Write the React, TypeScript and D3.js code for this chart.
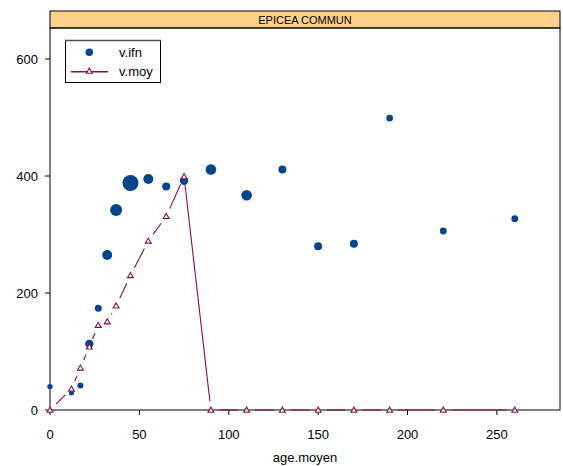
import React from 'react';
import * as d3 from 'd3';

const ages = [0, 12, 17, 22, 27, 32, 37, 45, 55, 65, 75, 90, 110, 130, 150, 170, 190, 220, 260];
const vIfn = [40, 29, 42, 113, 174, 265, 342, 388, 395, 382, 392, 411, 367, 411, 280, 284, 499, 306, 327];
const ifnRadius = [2.7, 2.5, 3, 4.2, 3.5, 5, 6, 8, 5, 4, 4.2, 5.3, 5.3, 4, 4, 4, 3.4, 3.4, 3.4];
const vMoy = [0, 36, 72, 108, 145, 151, 178, 230, 289, 331, 399, 0, 0, 0, 0, 0, 0, 0, 0];
const xTicks = [0, 50, 100, 150, 200, 250];
const yTicks = [0, 200, 400, 600];
const title = 'EPICEA COMMUN';

const BLUE = '#00468B';
const RED = '#8B0A50';
const font = 'Liberation Sans, Arial, sans-serif';

const W = 563;
const H = 466;
const left = 50;
const right = 560;
const top = 28;
const bottom = 410;

const App = () => {
  const x = d3.scaleLinear().domain([0, 285.3]).range([left, right]);
  const y = d3.scaleLinear().domain([0, 653]).range([bottom, top]);
  const tri = d3.symbol().type(d3.symbolTriangle).size(15)();

  // type "b": lines broken around each point
  const gap = 8.5;
  const segs = [];
  for (let i = 0; i < ages.length - 1; i++) {
    const x1 = x(ages[i]), y1 = y(vMoy[i]);
    const x2 = x(ages[i + 1]), y2 = y(vMoy[i + 1]);
    const len = Math.hypot(x2 - x1, y2 - y1);
    if (len <= gap * 2) continue;
    const ux = (x2 - x1) / len, uy = (y2 - y1) / len;
    segs.push([x1 + ux * gap, y1 + uy * gap, x2 - ux * gap, y2 - uy * gap]);
  }

  return (
    <svg width={W} height={H} style={{ position: 'absolute', left: 0, top: 0 }} fontFamily={font}>
      <rect x={0} y={0} width={W} height={H} fill="white" />
      {/* strip */}
      <rect x={left} y={11} width={right - left} height={top - 11} fill="#FFD08A" stroke="black" strokeWidth={1} />
      <text x={(left + right) / 2} y={24} textAnchor="middle" fontSize={11}>{title}</text>
      <rect x={left} y={top} width={right - left} height={bottom - top} fill="none" stroke="black" strokeWidth={1} />

      {/* axes */}
      {yTicks.map(t => (
        <g key={'y' + t}>
          <line x1={left - 5} x2={left} y1={y(t)} y2={y(t)} stroke="black" />
          <text x={38} y={y(t) + 4.5} textAnchor="end" fontSize={13}>{t}</text>
        </g>
      ))}
      {xTicks.map(t => (
        <g key={'x' + t}>
          <line x1={x(t)} x2={x(t)} y1={bottom} y2={bottom + 5} stroke="black" />
          <text x={x(t)} y={439} textAnchor="middle" fontSize={13}>{t}</text>
        </g>
      ))}
      <text x={(left + right) / 2} y={462} textAnchor="middle" fontSize={13}>age.moyen</text>

      {/* v.moy line */}
      {segs.map((s, i) => (
        <line key={'s' + i} x1={s[0]} y1={s[1]} x2={s[2]} y2={s[3]} stroke={RED} strokeWidth={1.1} />
      ))}

      {/* v.ifn points */}
      {ages.map((a, i) => (
        <circle key={'c' + i} cx={x(a)} cy={y(vIfn[i])} r={ifnRadius[i]} fill={BLUE} />
      ))}

      {/* v.moy triangles */}
      {ages.map((a, i) => (
        <path key={'t' + i} d={tri} transform={`translate(${x(a)},${y(vMoy[i]) + 0.5})`} fill="white" stroke={RED} strokeWidth={1.1} />
      ))}

      {/* legend */}
      <rect x={65.5} y={40.5} width={95} height={42} fill="white" stroke="black" strokeWidth={1} />
      <line x1={65} x2={161} y1={40.5} y2={40.5} stroke="#555" strokeWidth={1.6} />
      <circle cx={89.3} cy={52.3} r={3.8} fill={BLUE} />
      <text x={119} y={57} fontSize={13}>v.ifn</text>
      <line x1={71} x2={108} y1={71.7} y2={71.7} stroke={RED} strokeWidth={1.5} />
      <path d={tri} transform="translate(89.3,71.5)" fill="white" stroke={RED} strokeWidth={1.1} />
      <text x={119} y={76} fontSize={13}>v.moy</text>
    </svg>
  );
};

export default App;
